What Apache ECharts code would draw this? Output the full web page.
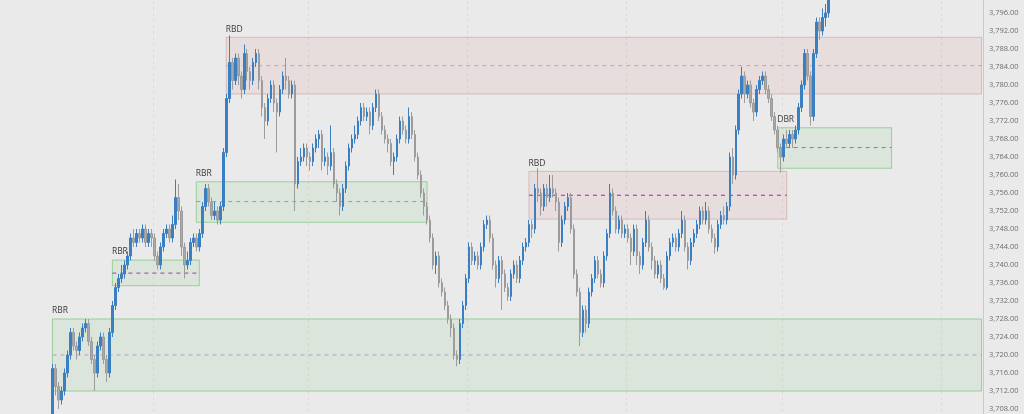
<!DOCTYPE html>
<html>
<head>
<meta charset="utf-8">
<script src="https://cdn.jsdelivr.net/npm/echarts@6/dist/echarts.min.js"></script>
<style>
html,body{margin:0;padding:0;background:#eaeaea;}
#chart{width:1024px;height:414px;}
</style>
</head>
<body>
<div id="chart"></div>
<script>
// ---- data ----
const leadingEmpty = 17;      // empty slots before the first candle
const totalSlots = 328;       // category slots across the plot
// candles: [open, close, low, high]
const candles = [
[3705,3717,3703,3718],[3717,3713,3711,3718],[3713,3710,3708,3714],[3710,3712,3709,3713],[3712,3716,3711,3717],
[3716,3720,3715,3721],[3720,3725,3719,3726],[3725,3722,3721,3726],[3722,3721,3719,3723],[3721,3724,3720,3725],
[3724,3726,3723,3727],[3726,3727,3725,3728],[3727,3723,3722,3728],[3723,3719,3718,3724],[3719,3716,3712,3720],
[3716,3722,3715,3723],[3722,3724,3721,3725],[3724,3719,3718,3725],[3719,3716,3714,3720],[3716,3725,3715,3726],
[3725,3731,3724,3732],[3731,3735,3730,3736],[3735,3737,3734,3738],[3737,3738,3736,3740],[3738,3740,3737,3741],
[3740,3742,3739,3743],[3742,3746,3741,3747],[3746,3745,3744,3748],[3745,3747,3744,3748],[3747,3746,3745,3748],
[3746,3748,3745,3749],[3748,3745,3744,3749],[3745,3747,3744,3748],[3747,3746,3744,3748],[3746,3742,3741,3747],
[3742,3740,3739,3743],[3740,3744,3739,3745],[3744,3747,3743,3748],[3747,3748,3746,3749],[3748,3746,3745,3749],
[3746,3749,3745,3751],[3749,3755,3748,3759],[3755,3752,3750,3758],[3752,3744,3742,3753],[3744,3740,3737,3745],
[3740,3741,3739,3743],[3741,3745,3740,3746],[3745,3746,3744,3747],[3746,3744,3743,3747],[3744,3747,3743,3748],
[3747,3753,3746,3754],[3753,3757,3752,3758],[3757,3754,3753,3758],[3754,3751,3750,3755],[3751,3752,3750,3754],
[3752,3750,3749,3753],[3750,3753,3749,3754],[3753,3765,3752,3766],[3765,3777,3764,3778],[3777,3785,3776,3791],
[3785,3781,3779,3786],[3781,3786,3780,3787],[3786,3782,3780,3787],[3782,3779,3777,3783],[3779,3787,3778,3789],
[3787,3783,3781,3788],[3783,3781,3779,3784],[3781,3785,3780,3786],[3785,3787,3784,3788],[3787,3781,3779,3788],
[3781,3775,3773,3782],[3775,3772,3768,3776],[3772,3777,3771,3778],[3777,3780,3776,3781],[3780,3776,3774,3781],
[3776,3774,3765,3777],[3774,3779,3773,3780],[3779,3782,3778,3783],[3782,3781,3779,3786],[3781,3778,3777,3782],
[3778,3780,3777,3781],[3780,3758,3752,3781],[3758,3763,3757,3764],[3763,3764,3762,3766],[3764,3766,3763,3767],
[3766,3764,3762,3767],[3764,3763,3761,3765],[3763,3766,3762,3767],[3766,3768,3765,3769],[3768,3769,3766,3770],
[3769,3763,3761,3770],[3763,3764,3762,3766],[3764,3762,3760,3765],[3762,3765,3761,3771],[3765,3758,3757,3766],
[3758,3756,3754,3759],[3756,3753,3751,3757],[3753,3757,3752,3758],[3757,3762,3756,3763],[3762,3766,3761,3767],
[3766,3768,3765,3769],[3768,3769,3767,3771],[3769,3772,3768,3773],[3772,3775,3771,3776],[3775,3773,3772,3776],
[3773,3774,3772,3775],[3774,3771,3769,3775],[3771,3775,3770,3776],[3775,3778,3774,3779],[3778,3773,3772,3779],
[3773,3770,3769,3774],[3770,3768,3767,3771],[3768,3767,3765,3769],[3767,3763,3762,3768],[3763,3764,3760,3765],
[3764,3768,3763,3769],[3768,3772,3767,3773],[3772,3770,3769,3773],[3770,3768,3767,3771],[3768,3773,3767,3775],
[3773,3769,3768,3774],[3769,3764,3763,3770],[3764,3760,3759,3765],[3760,3756,3755,3761],[3756,3753,3751,3757],
[3753,3750,3749,3754],[3750,3746,3745,3751],[3746,3740,3739,3747],[3740,3742,3738,3743],[3742,3736,3735,3743],
[3736,3734,3733,3737],[3734,3731,3730,3735],[3731,3728,3727,3732],[3728,3726,3724,3729],[3726,3720,3719,3727],
[3720,3719,3717.5,3721],[3719,3727,3718,3728],[3727,3731,3726,3732],[3731,3737,3730,3738],[3737,3744,3736,3745],
[3744,3741,3740,3745],[3741,3742,3740,3743],[3742,3740,3739,3743],[3740,3744,3739,3745],[3744,3749,3743,3750],
[3749,3750,3748,3751],[3750,3746,3745,3751],[3746,3740,3739,3747],[3740,3737,3735,3741],[3737,3741,3736,3742],
[3741,3738,3730,3742],[3738,3735,3734,3739],[3735,3733,3732,3736],[3733,3738,3732,3739],[3738,3740,3737,3741],
[3740,3737,3736,3741],[3737,3741,3736,3742],[3741,3744,3740,3745],[3744,3745,3743,3746],[3745,3749,3744,3750],
[3749,3748,3746,3750],[3748,3757,3747,3758],[3757,3756,3754,3761.5],[3756,3753,3751,3757],[3753,3757,3752,3758],
[3757,3755,3753,3758],[3755,3757,3754,3760],[3757,3756,3755,3760],[3756,3754,3752,3757],[3754,3745,3743,3755],
[3745,3750,3744,3751],[3750,3753,3749,3754],[3753,3755,3752,3756],[3755,3748,3747,3756],[3748,3738,3737,3749],
[3738,3734,3733,3739],[3734,3725,3722,3735],[3725,3730,3724,3731],[3730,3727,3725,3731],[3727,3734,3726,3735],
[3734,3737,3733,3738],[3737,3741,3736,3742],[3741,3738,3737,3742],[3738,3736,3735,3739],[3736,3742,3735,3743],
[3742,3747,3741,3748],[3747,3756,3746,3758],[3756,3752,3751,3757],[3752,3748,3747,3753],[3748,3750,3747,3751],
[3750,3747,3746,3751],[3747,3748,3746,3749],[3748,3746,3745,3749],[3746,3743,3740,3747],[3743,3748,3742,3749],
[3748,3742,3740,3749],[3742,3740,3738,3743],[3740,3745,3739,3746],[3745,3750,3744,3752],[3750,3744,3743,3751],
[3744,3741,3739,3745],[3741,3738,3737,3742],[3738,3740,3737,3741],[3740,3737,3736,3741],[3737,3735,3734.5,3738],
[3735,3742,3734.5,3743],[3742,3745,3741,3746],[3745,3746,3744,3747],[3746,3744,3743,3747],[3744,3747,3743,3748],
[3747,3750,3746,3752],[3750,3744,3743,3751],[3744,3741,3739,3745],[3741,3745,3740,3746],[3745,3747,3744,3748],
[3747,3749,3746,3750],[3749,3752,3748,3753],[3752,3750,3749,3753],[3750,3752,3749,3754],[3752,3748,3747,3753],
[3748,3746,3745,3749],[3746,3744,3742.5,3747],[3744,3749,3743,3750],[3749,3751,3748,3752],[3751,3750,3749,3753],
[3750,3753,3749,3754],[3753,3764,3752,3765],[3764,3760,3758,3766],[3760,3770,3759,3771],[3770,3778,3769,3779],
[3778,3782,3777,3784],[3782,3778,3776,3783],[3778,3780,3777,3781],[3780,3776,3775,3781],[3776,3774,3772,3777],
[3774,3779,3773,3780],[3779,3781,3778,3782],[3781,3782,3780,3783],[3782,3779,3778,3783],[3779,3777,3776,3780],
[3777,3773,3772,3778],[3773,3770,3769,3774],[3770,3766,3765,3771],[3766,3764,3760.5,3767],[3764,3768,3763,3769],
[3768,3767,3766,3770],[3767,3769,3766,3770],[3769,3768,3766,3770],[3768,3770,3767,3771],[3770,3775,3769,3776],
[3775,3780,3774,3781],[3780,3787,3779,3788],[3787,3782,3781,3788],[3782,3773,3771,3783],[3773,3787,3772,3788],
[3787,3794,3786,3795],[3794,3792,3790,3795],[3792,3795,3791,3797],[3795,3796,3793,3798],[3796,3800,3795,3802]
];
// zones: slot indices and price bounds
const zoneNames  = ['RBR','RBR','RBR','RBD','RBD','DBR'];
const zoneKinds  = ['demand','demand','demand','supply','supply','demand'];
const zoneStart  = [17, 37, 65, 75, 176, 259];
const zoneEnd    = [327, 66, 142, 327, 262, 297];
const zoneTop    = [3728, 3741.1, 3758.5, 3790.6, 3760.8, 3770.5];
const zoneBottom = [3712, 3735.4, 3749.5, 3778, 3750.2, 3761.5];
const zoneMid    = [3720, 3738.2, 3754.1, 3784.3, 3755.5, 3766.1];
const midColors  = ['#b99acb','#9a3cae','#b386c6','#cc96cf','#9a2fa3','#c44fe0'];
// session separators (slot indices)
const sessionBreaks = [51, 103, 156, 209, 261, 314];
// y axis
const yMin = 3704, yMax = 3800, yStep = 4;

// ---- build ----
const categories = [];
for (let i = 0; i < totalSlots; i++) categories.push(String(i));
const seriesData = new Array(leadingEmpty).fill('-').concat(candles);
while (seriesData.length < totalSlots) seriesData.push('-');

const areaData = zoneNames.map((n, k) => {
  const demand = zoneKinds[k] === 'demand';
  return [{
    name: n,
    xAxis: zoneStart[k], yAxis: zoneTop[k],
    itemStyle: {
      color: demand ? 'rgba(120,200,120,0.13)' : 'rgba(215,140,140,0.14)',
      borderColor: demand ? 'rgba(105,195,105,0.62)' : 'rgba(195,140,140,0.45)',
      borderWidth: 1
    }
  }, { xAxis: zoneEnd[k], yAxis: zoneBottom[k] }];
});

const midSeries = zoneNames.map((n, k) => ({
  type: 'line',
  silent: true,
  symbol: 'none',
  z: 3,
  color: midColors[k],
  lineStyle: { type: [4, 4], width: 1, color: midColors[k] },
  data: [[zoneStart[k], zoneMid[k]], [zoneEnd[k], zoneMid[k]]]
}));

const chart = echarts.init(document.getElementById('chart'), null, { renderer: 'canvas' });
chart.setOption({
  animation: false,
  backgroundColor: '#eaeaea',
  grid: { left: 0, right: 41, top: -5, bottom: -13, containLabel: false, outerBoundsMode: 'none' },
  xAxis: {
    type: 'category',
    data: categories,
    boundaryGap: true,
    axisLine: { show: false },
    axisTick: { show: false },
    axisLabel: { show: false },
    splitLine: {
      show: true,
      interval: (idx) => sessionBreaks.indexOf(idx) >= 0,
      lineStyle: { color: 'rgba(225,200,170,0.45)', width: 1, type: [3, 3] }
    }
  },
  yAxis: {
    type: 'value',
    position: 'right',
    min: yMin, max: yMax, interval: yStep,
    axisLine: { show: true, lineStyle: { color: '#c9c9c9', width: 1 } },
    axisTick: { show: false },
    splitLine: { show: false },
    axisLabel: {
      margin: 6,
      color: '#6e6e6e',
      fontSize: 7.5,
      fontFamily: 'Open Sans, sans-serif',
      formatter: (v) => v.toLocaleString('en-US', { minimumFractionDigits: 2, maximumFractionDigits: 2 })
    }
  },
  series: [{
    type: 'candlestick',
    data: seriesData,
    barWidth: 2,
    clip: true,
    z: 4,
    itemStyle: {
      color: '#3b7fc3', color0: '#a9a9a9',
      borderColor: '#3b7fc3', borderColor0: '#9c9c9c',
      borderWidth: 1
    },
    markArea: {
      silent: true,
      z: 1,
      label: {
        show: true,
        position: [0, -12],
        color: '#3a3a3a',
        fontSize: 8.5,
        fontFamily: 'Open Sans, sans-serif'
      },
      data: areaData
    }
  }].concat(midSeries)
});
</script>
</body>
</html>
